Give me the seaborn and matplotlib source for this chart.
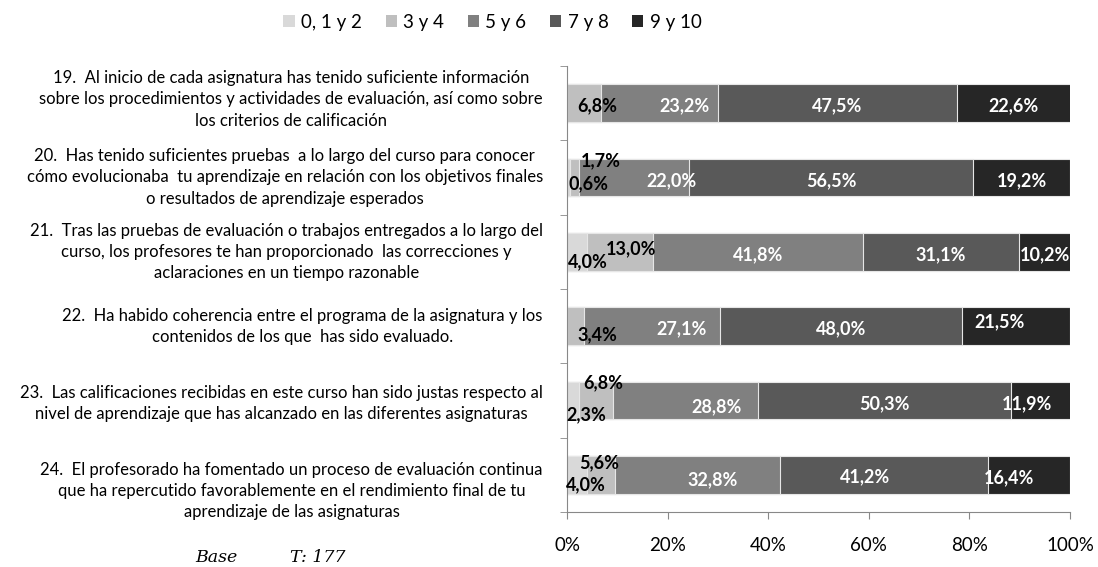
import numpy as np
import pandas as pd
import matplotlib
matplotlib.use("Agg")
import matplotlib.pyplot as plt
from matplotlib.patches import Patch
import seaborn as sns

# datos (% por pregunta)
preguntas = [
    "19.  Al inicio de cada asignatura has tenido suficiente información\nsobre los procedimientos y actividades de evaluación, así como sobre\nlos criterios de calificación",
    "20.  Has tenido suficientes pruebas  a lo largo del curso para conocer\ncómo evolucionaba  tu aprendizaje en relación con los objetivos finales\no resultados de aprendizaje esperados",
    "21.  Tras las pruebas de evaluación o trabajos entregados a lo largo del\ncurso, los profesores te han proporcionado  las correcciones y\naclaraciones en un tiempo razonable",
    "22.  Ha habido coherencia entre el programa de la asignatura y los\ncontenidos de los que  has sido evaluado.",
    "23.  Las calificaciones recibidas en este curso han sido justas respecto al\nnivel de aprendizaje que has alcanzado en las diferentes asignaturas",
    "24.  El profesorado ha fomentado un proceso de evaluación continua\nque ha repercutido favorablemente en el rendimiento final de tu\naprendizaje de las asignaturas",
]
series = ["0, 1 y 2", "3 y 4", "5 y 6", "7 y 8", "9 y 10"]
v_0_2 = [0.0, 0.6, 4.0, 0.0, 2.3, 4.0]
v_3_4 = [6.8, 1.7, 13.0, 3.4, 6.8, 5.6]
v_5_6 = [23.2, 22.0, 41.8, 27.1, 28.8, 32.8]
v_7_8 = [47.5, 56.5, 31.1, 48.0, 50.3, 41.2]
v_9_10 = [22.6, 19.2, 10.2, 21.5, 11.9, 16.4]

colores = ["#d9d9d9", "#bfbfbf", "#808080", "#595959", "#262626"]
col_texto = ["black", "black", "white", "white", "white"]

df = pd.DataFrame({"pregunta": preguntas, series[0]: v_0_2, series[1]: v_3_4,
                   series[2]: v_5_6, series[3]: v_7_8, series[4]: v_9_10})
acum = df[series].cumsum(axis=1)

# desplazamientos manuales de etiquetas (dx en %, dy en filas)
ajustes = {
    (0, 1): (2.7, 0.0), (0, 2): (5.0, 0.0),
    (1, 0): (3.9, 0.05), (1, 1): (5.2, -0.27), (1, 2): (7.4, 0.0),
    (2, 0): (2.2, 0.09), (2, 1): (2.2, -0.08),
    (3, 1): (4.3, 0.07), (3, 2): (5.8, 0.0), (3, 4): (-3.2, -0.1),
    (4, 0): (2.6, 0.15), (4, 1): (1.5, -0.28), (4, 2): (6.2, 0.05), (4, 4): (-2.6, 0.0),
    (5, 0): (1.7, 0.1), (5, 1): (-0.5, -0.2), (5, 2): (2.9, 0.03), (5, 3): (-3.8, -0.02), (5, 4): (-3.9, 0.0),
}

plt.rcParams["font.family"] = ["Lato", "DejaVu Sans"]

fig = plt.figure(figsize=(10.98, 5.67), dpi=100)
ax = fig.add_axes([0.5164, 0.097, 0.4581, 0.7866])

# barras apiladas: acumulados de mayor a menor, superpuestos
for i in range(len(series) - 1, -1, -1):
    sns.barplot(x=acum[series[i]].values, y=df["pregunta"], color=colores[i],
                orient="h", width=0.51, ax=ax, edgecolor="#e6e6e6", linewidth=0.8,
                saturation=1)

# etiquetas de datos
for r in range(len(preguntas)):
    for i, s in enumerate(series):
        v = df.loc[r, s]
        if v <= 0:
            continue
        centro = acum.loc[r, s] - v / 2
        dx, dy = ajustes.get((r, i), (0.0, 0.0))
        ax.text(centro + dx, r + 0.04 + dy, f"{v:.1f}%".replace(".", ","),
                ha="center", va="center", color=col_texto[i],
                fontsize=13, fontweight="bold")

ax.set_xlim(0, 100)
ax.set_ylim(5.5, -0.5)
ax.set_xticks(np.arange(0, 101, 20))
ax.set_xticklabels([f"{t}%" for t in range(0, 101, 20)])
ax.set_xlabel("")
ax.set_ylabel("")
ax.set_yticks(range(len(preguntas)))
ax.set_yticklabels([])
ax.set_yticks(np.arange(-0.5, 6.0, 1.0), minor=True)
ax.tick_params(axis="y", which="major", length=0)
ax.tick_params(axis="y", which="minor", length=5, color="#888888", direction="out")
ax.tick_params(axis="x", length=5, color="#888888", direction="out", pad=13, labelsize=13.5)
for lado in ["top", "right"]:
    ax.spines[lado].set_visible(False)
for lado in ["left", "bottom"]:
    ax.spines[lado].set_color("#888888")

# textos de las preguntas a la izquierda
desp_preg = [-0.05, 0.0, 0.0, 0.0, 0.04, 0.22]
for r, texto in enumerate(preguntas):
    ax.text(-0.048, r + desp_preg[r], texto, transform=ax.get_yaxis_transform(),
            ha="right", va="center", multialignment="center",
            fontsize=12, linespacing=1.4)

# leyenda
handles = [Patch(facecolor=c, edgecolor="none") for c in colores]
fig.legend(handles, series, loc="upper center", bbox_to_anchor=(0.4486, 1.005),
           ncol=5, frameon=False, handlelength=0.6, handleheight=0.6,
           handletextpad=0.35, columnspacing=1.25, fontsize=13.5)

fig.text(0.178, 0.008, "Base", family="DejaVu Serif", style="italic", fontsize=12.5)
fig.text(0.264, 0.008, "T: 177", family="DejaVu Serif", style="italic", fontsize=12.5)

fig.savefig("out.png", dpi=100)
